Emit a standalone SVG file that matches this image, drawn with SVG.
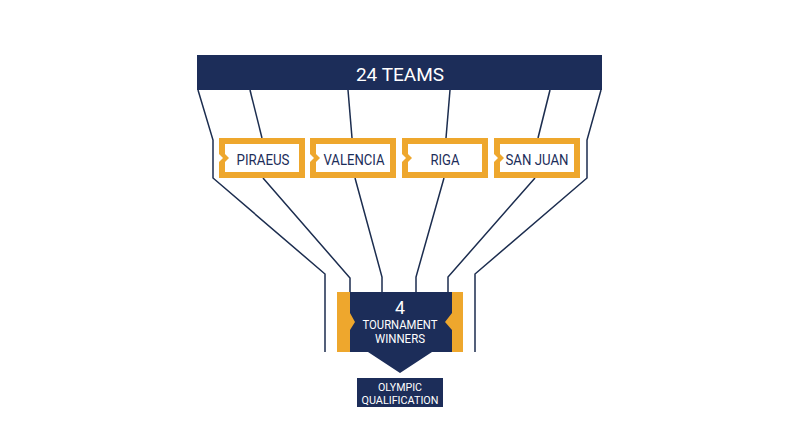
<svg xmlns="http://www.w3.org/2000/svg" width="800" height="447" viewBox="0 0 800 447">
<style>
.navy{fill:#1c2d59}
.orange{fill:#eea72d}
.white{fill:#ffffff}
.conn{fill:none;stroke:#1c2d4f;stroke-width:1.5;stroke-linejoin:miter}
.lbl{font-family:Roboto,"Liberation Sans",sans-serif;font-size:15.5px;fill:#1c2d59;text-anchor:middle}
.wt{font-family:Roboto,"Liberation Sans",sans-serif;fill:#ffffff;text-anchor:middle}
</style>
<defs>
<g id="tag">
<path class="orange" d="M0,0 H86 V40 H0 V24 L4,20 L0,16 Z"/>
<path class="white" d="M6,6 H80 V34 H6 V24 L10,20 L6,16 Z"/>
</g>
</defs>
<rect width="800" height="447" fill="#ffffff"/>
<g id="connectors">
<polyline class="conn" points="198,90 213,140 213,178 325,274 325,352"/>
<polyline class="conn" points="250,90 262,138"/>
<polyline class="conn" points="263,178 350,278 350,293"/>
<polyline class="conn" points="348,90 352,138"/>
<polyline class="conn" points="355,178 382,277 382,293"/>
<polyline class="conn" points="450,90 446,138"/>
<polyline class="conn" points="444,178 416,277 416,293"/>
<polyline class="conn" points="550,90 538,138"/>
<polyline class="conn" points="535,178 448,277 448,293"/>
<polyline class="conn" points="601,90 587,140 587,178 475,274 475,352"/>
</g>
<g id="teams">
<rect class="navy" x="197" y="55" width="405" height="35"/>
<text class="wt" x="400" y="81" font-size="19">24 TEAMS</text>
</g>
<g id="piraeus">
<use href="#tag" x="219" y="138"/>
<text class="lbl" x="263" y="164.5" textLength="53" lengthAdjust="spacingAndGlyphs">PIRAEUS</text>
</g>
<g id="valencia">
<use href="#tag" x="310" y="138"/>
<text class="lbl" x="354" y="164.5" textLength="61" lengthAdjust="spacingAndGlyphs">VALENCIA</text>
</g>
<g id="riga">
<use href="#tag" x="402" y="138"/>
<text class="lbl" x="445" y="164.5" textLength="29" lengthAdjust="spacingAndGlyphs">RIGA</text>
</g>
<g id="sanjuan">
<use href="#tag" x="494" y="138"/>
<text class="lbl" x="537" y="164.5" textLength="63" lengthAdjust="spacingAndGlyphs">SAN JUAN</text>
</g>
<g id="winners">
<rect class="orange" x="337" y="292" width="126" height="60"/>
<path class="navy" d="M350,292 H452 V313 L445,322 L452,330 V352 H432 L400,373 L368,352 H350 V330 L355,322 L350,313 Z"/>
<text class="wt" x="400" y="313.5" font-size="18" textLength="10" lengthAdjust="spacingAndGlyphs">4</text>
<text class="wt" x="400" y="329" font-size="12" textLength="75" lengthAdjust="spacingAndGlyphs">TOURNAMENT</text>
<text class="wt" x="400" y="343" font-size="12" textLength="50" lengthAdjust="spacingAndGlyphs">WINNERS</text>
</g>
<g id="olympic">
<rect class="navy" x="357" y="378" width="86" height="29"/>
<text class="wt" x="400" y="391" font-size="11.5" textLength="44" lengthAdjust="spacingAndGlyphs">OLYMPIC</text>
<text class="wt" x="400" y="404" font-size="11.5" textLength="77" lengthAdjust="spacingAndGlyphs">QUALIFICATION</text>
</g>
</svg>
